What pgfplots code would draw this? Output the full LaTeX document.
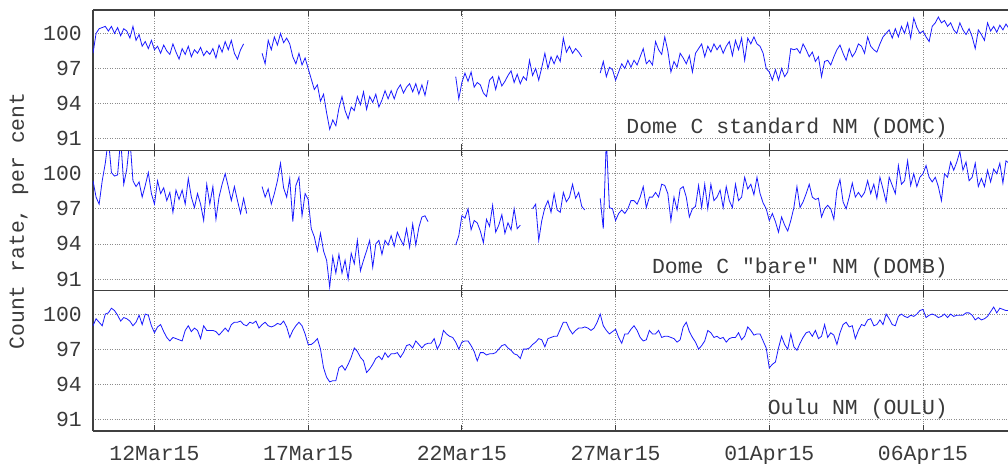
\documentclass[border=0pt]{standalone}
\usepackage{fontspec}
\setmainfont{Liberation Mono}[Ligatures=TeXOff]
\usepackage{pgfplots}
\usepackage{pgfplotstable}
\pgfplotsset{compat=1.18}

% DOMC: one value every 0.1 day from 10Mar15 00:00
\pgfplotstableread[row sep=\\,header=false]{
98.3\\100.0\\100.4\\100.5\\100.6\\100.2\\100.6\\100.0\\100.5\\99.8\\
100.4\\100.2\\99.6\\100.6\\99.4\\99.9\\98.9\\99.3\\98.7\\99.4\\
98.6\\98.9\\98.3\\99.0\\98.5\\98.2\\99.1\\98.4\\97.8\\98.7\\
98.2\\98.9\\98.0\\98.6\\98.3\\98.8\\98.1\\98.5\\98.2\\98.7\\
97.9\\99.0\\98.4\\99.3\\98.6\\99.4\\98.3\\97.8\\98.6\\99.1\\
nan\\nan\\nan\\nan\\nan\\98.3\\97.4\\99.4\\98.6\\99.7\\
99.0\\100.0\\99.2\\99.6\\99.1\\98.0\\97.4\\98.3\\97.3\\97.9\\
97.0\\96.1\\95.2\\95.6\\94.2\\94.8\\93.2\\91.8\\92.6\\92.1\\
93.6\\94.6\\93.4\\92.7\\93.7\\93.4\\94.6\\93.9\\95.0\\93.5\\
94.6\\94.1\\94.8\\93.7\\94.3\\95.1\\94.4\\95.1\\94.4\\95.2\\
95.6\\94.9\\95.4\\95.7\\95.0\\95.7\\94.8\\95.6\\94.7\\96.0\\
nan\\nan\\nan\\nan\\nan\\nan\\nan\\nan\\96.3\\94.4\\
95.8\\96.6\\95.9\\96.7\\95.4\\95.8\\95.6\\94.9\\94.6\\96.0\\
96.3\\95.2\\96.3\\95.5\\95.9\\96.4\\96.8\\95.8\\96.5\\95.7\\
96.3\\96.0\\97.7\\96.4\\97.0\\96.0\\97.1\\98.3\\97.0\\98.0\\
97.4\\98.1\\97.6\\99.6\\98.4\\98.9\\98.3\\98.7\\98.4\\98.0\\
nan\\nan\\nan\\nan\\nan\\96.6\\97.6\\96.3\\97.1\\96.9\\
96.0\\96.7\\97.4\\97.0\\97.7\\97.1\\97.7\\97.3\\98.0\\98.7\\
97.4\\97.7\\97.3\\99.3\\98.6\\98.2\\99.7\\98.5\\96.7\\97.6\\
97.1\\98.3\\97.9\\97.4\\98.1\\96.7\\98.3\\98.7\\99.1\\98.0\\
98.9\\98.4\\99.1\\98.6\\99.0\\98.3\\98.9\\99.3\\98.1\\99.4\\
98.6\\99.6\\97.7\\99.6\\99.1\\99.7\\99.1\\98.9\\98.3\\97.0\\
96.7\\96.0\\96.9\\96.0\\97.0\\96.3\\96.7\\98.7\\98.6\\98.7\\
98.3\\99.1\\98.6\\98.0\\98.4\\97.6\\98.0\\96.3\\97.6\\97.7\\
97.3\\98.0\\98.6\\99.0\\98.3\\97.7\\98.7\\98.0\\98.4\\99.1\\
98.9\\98.3\\99.7\\98.9\\98.6\\98.4\\99.1\\99.7\\100.0\\100.3\\
99.6\\100.4\\99.7\\100.6\\100.0\\100.9\\99.6\\101.3\\100.5\\100.0\\
100.2\\99.7\\99.3\\100.6\\100.9\\101.4\\100.9\\101.1\\100.6\\100.9\\
100.3\\100.0\\100.9\\100.3\\99.9\\100.4\\99.7\\98.7\\100.3\\99.9\\
99.4\\100.9\\100.2\\100.6\\100.1\\100.7\\100.3\\100.8\\100.4\\
}\domc

% DOMB
\pgfplotstableread[row sep=\\,header=false]{
99.4\\98.0\\97.4\\99.4\\100.9\\103.0\\100.1\\99.8\\99.9\\103.0\\
99.1\\100.4\\103.0\\99.4\\98.9\\99.3\\98.0\\99.0\\100.1\\98.3\\
97.4\\99.4\\98.3\\98.8\\97.7\\98.4\\96.7\\98.6\\97.8\\98.6\\
97.4\\99.6\\98.0\\97.1\\98.3\\97.4\\96.0\\99.1\\97.4\\98.9\\
96.1\\98.0\\99.1\\100.0\\98.9\\97.7\\98.9\\97.7\\96.6\\97.9\\
96.6\\nan\\nan\\nan\\nan\\98.9\\98.0\\98.7\\97.4\\98.3\\
99.4\\100.9\\98.8\\98.0\\99.6\\95.9\\99.0\\99.7\\96.4\\98.3\\
97.8\\95.3\\94.6\\93.4\\94.9\\93.4\\92.6\\90.3\\92.9\\91.5\\
93.1\\91.5\\92.6\\91.0\\93.2\\92.3\\94.3\\91.7\\92.6\\93.4\\
94.3\\92.0\\94.0\\94.3\\93.1\\94.3\\93.9\\94.7\\93.8\\95.0\\
94.4\\93.9\\95.3\\93.7\\95.7\\93.9\\95.4\\96.3\\96.4\\95.9\\
nan\\nan\\nan\\nan\\nan\\nan\\nan\\nan\\93.9\\94.7\\
96.4\\96.2\\97.0\\95.2\\96.0\\95.8\\95.1\\94.1\\96.1\\95.5\\
97.3\\95.0\\95.6\\96.5\\94.9\\95.8\\95.2\\97.0\\95.3\\95.6\\
nan\\nan\\nan\\97.0\\97.4\\94.3\\96.0\\97.1\\97.7\\96.7\\
98.3\\96.9\\96.7\\98.4\\97.6\\98.0\\99.1\\97.9\\98.4\\97.2\\
96.9\\nan\\nan\\nan\\nan\\97.9\\95.3\\103.0\\97.1\\97.0\\
96.0\\96.6\\96.9\\96.6\\97.0\\97.7\\97.7\\97.4\\98.0\\98.9\\
97.1\\98.0\\98.0\\98.4\\98.0\\99.1\\99.0\\98.3\\96.0\\98.0\\
96.9\\98.7\\98.9\\98.0\\96.3\\97.0\\97.2\\99.0\\97.1\\99.1\\
97.0\\99.1\\97.7\\98.0\\98.6\\97.1\\98.9\\97.7\\97.1\\99.1\\
97.7\\98.0\\99.7\\98.7\\99.1\\98.2\\99.7\\98.3\\97.5\\97.0\\
96.0\\96.6\\95.9\\95.0\\96.3\\95.6\\95.1\\96.0\\97.1\\98.9\\
97.1\\97.6\\98.3\\99.1\\98.0\\97.8\\97.9\\96.3\\97.0\\97.3\\
97.0\\96.1\\98.6\\99.5\\97.6\\97.0\\98.0\\99.2\\98.0\\98.4\\
98.0\\98.4\\99.4\\98.3\\99.1\\97.9\\99.7\\98.7\\97.6\\99.7\\
99.0\\98.3\\100.7\\99.1\\99.4\\101.1\\99.0\\100.0\\98.9\\99.7\\
100.0\\100.7\\99.7\\99.3\\99.7\\98.9\\97.7\\100.0\\99.7\\101.0\\
100.3\\101.0\\101.9\\100.3\\101.0\\99.4\\99.7\\100.9\\98.9\\99.6\\
98.9\\100.3\\99.3\\100.4\\100.0\\100.9\\99.2\\101.1\\100.9\\
}\domb

% OULU
\pgfplotstableread[row sep=\\,header=false]{
99.0\\99.6\\99.3\\99.0\\100.0\\100.1\\100.5\\100.3\\99.9\\99.4\\
99.7\\99.6\\99.4\\99.0\\99.3\\99.9\\99.1\\100.0\\99.9\\99.0\\
98.4\\98.9\\99.1\\98.5\\98.0\\97.7\\98.0\\97.9\\97.8\\97.7\\
98.6\\99.0\\98.5\\98.8\\98.6\\97.9\\99.0\\98.6\\98.6\\98.6\\
98.5\\98.2\\98.5\\98.8\\98.5\\99.1\\99.3\\99.3\\99.4\\99.1\\
99.0\\99.3\\99.2\\99.4\\98.8\\99.1\\99.3\\99.0\\98.9\\99.0\\
99.2\\99.1\\99.4\\98.9\\98.0\\98.6\\99.0\\99.3\\99.0\\98.3\\
97.4\\97.4\\97.6\\97.9\\97.0\\95.4\\94.6\\94.2\\94.3\\94.3\\
95.4\\95.6\\95.2\\95.7\\96.3\\97.1\\96.8\\96.3\\96.0\\95.0\\
95.3\\95.7\\96.2\\96.4\\96.1\\96.7\\96.3\\96.6\\96.6\\96.7\\
96.3\\96.7\\97.3\\97.4\\97.1\\97.7\\97.4\\97.1\\97.4\\97.5\\
97.5\\97.9\\97.0\\97.5\\98.6\\98.3\\98.1\\98.0\\97.6\\97.0\\
97.6\\97.7\\97.7\\97.3\\96.8\\96.0\\96.7\\96.7\\96.5\\96.6\\
96.6\\96.7\\97.0\\97.3\\97.4\\97.1\\96.9\\96.6\\96.5\\96.2\\
97.0\\97.0\\97.1\\97.4\\97.6\\97.9\\97.8\\97.2\\97.9\\98.0\\
98.1\\98.1\\98.7\\99.3\\99.3\\98.7\\98.3\\98.6\\98.8\\98.8\\
98.9\\98.8\\98.6\\98.8\\99.3\\100.0\\99.0\\98.6\\98.3\\98.5\\
98.7\\98.0\\97.5\\98.3\\98.3\\98.7\\99.0\\98.6\\98.0\\97.7\\
97.8\\98.6\\98.3\\98.3\\98.6\\98.0\\98.1\\98.1\\98.0\\97.9\\
97.6\\97.8\\98.9\\99.3\\98.5\\98.0\\97.6\\97.0\\97.3\\97.7\\
98.6\\98.4\\98.0\\98.1\\97.9\\98.0\\97.6\\97.9\\98.0\\98.0\\
98.4\\97.8\\98.1\\98.9\\98.6\\98.2\\98.3\\98.3\\97.7\\97.1\\
95.4\\95.7\\95.9\\97.1\\98.1\\97.4\\97.0\\98.3\\97.2\\96.9\\
97.5\\98.0\\98.4\\98.5\\98.1\\98.6\\97.9\\98.1\\99.1\\98.0\\
98.4\\98.2\\97.4\\98.4\\99.1\\99.3\\98.9\\99.0\\97.9\\98.6\\
99.1\\99.0\\99.5\\99.6\\99.0\\99.1\\99.5\\99.1\\100.0\\99.6\\
99.1\\99.0\\99.8\\100.0\\99.8\\99.7\\99.9\\99.8\\100.0\\100.3\\
100.4\\99.7\\99.9\\100.0\\99.9\\99.7\\99.8\\100.0\\99.7\\100.0\\
99.8\\99.9\\99.9\\99.9\\100.1\\100.1\\99.9\\99.5\\99.7\\99.5\\
99.6\\99.8\\100.2\\100.6\\100.1\\100.5\\100.4\\100.3\\100.3\\
}\oulu

\definecolor{txt}{HTML}{3A3A3A}
\definecolor{frame}{HTML}{404040}
\definecolor{dlblue}{HTML}{1A1AFF}

\tikzset{
  panellabel/.style={anchor=east, inner sep=0pt, text=txt,
    font=\fontsize{21.5}{24}\selectfont},
  seriesline/.style={dlblue, line width=0.8bp, mark=none},
}
\pgfplotsset{
  panel/.style={
    scale only axis, width=915bp, height=140.33bp,
    anchor=south west,
    xmin=0, xmax=29.766, ymin=90, ymax=102,
    axis y line*=left,
    axis line style={frame, line width=1.4bp},
    xtick={2,7,12,17,22,27},
    ytick={91,94,97,100},
    yticklabels={91,94,97,100},
    tick align=inside,
    major tick length=6bp,
    x tick style={frame, line width=0.9bp},
    y tick style={draw=none},
    grid=major,
    major grid style={dotted, black!45, line width=0.7bp},
    /pgf/number format/assume math mode=true,
    tick label style={font=\fontsize{21.5}{24}\selectfont, text=txt, inner sep=0pt},
    yticklabel style={anchor=east, xshift=-11bp},
    xticklabel style={anchor=north, yshift=-15bp},
    unbounded coords=jump,
  },
}

\begin{document}
\begin{tikzpicture}
\begin{axis}[panel, at={(0bp,0bp)},
  xticklabels={12Mar15,17Mar15,22Mar15,27Mar15,01Apr15,06Apr15}]
\addplot[seriesline] table[x expr=\coordindex*0.1, y index=0] {\oulu};
\node[panellabel] at (rel axis cs:0.9344,0.155) {Oulu NM (OULU)};
\end{axis}
\begin{axis}[panel, at={(0bp,140.33bp)}, xticklabels={}]
\addplot[seriesline] table[x expr=\coordindex*0.1, y index=0] {\domb};
\node[panellabel] at (rel axis cs:0.9344,0.16) {Dome C "bare" NM (DOMB)};
\end{axis}
\begin{axis}[panel, at={(0bp,280.67bp)}, xticklabels={}]
\addplot[seriesline] table[x expr=\coordindex*0.1, y index=0] {\domc};
\node[panellabel] at (rel axis cs:0.9344,0.157) {Dome C standard NM (DOMC)};
\end{axis}
\node[rotate=90, text=txt, font=\fontsize{21.5}{24}\selectfont, inner sep=0pt]
  at (-74bp,210bp) {Count rate, per cent};
\pgfresetboundingbox
\path[use as bounding box] (-93bp,-33bp) rectangle (915bp,431bp);
\end{tikzpicture}
\end{document}
